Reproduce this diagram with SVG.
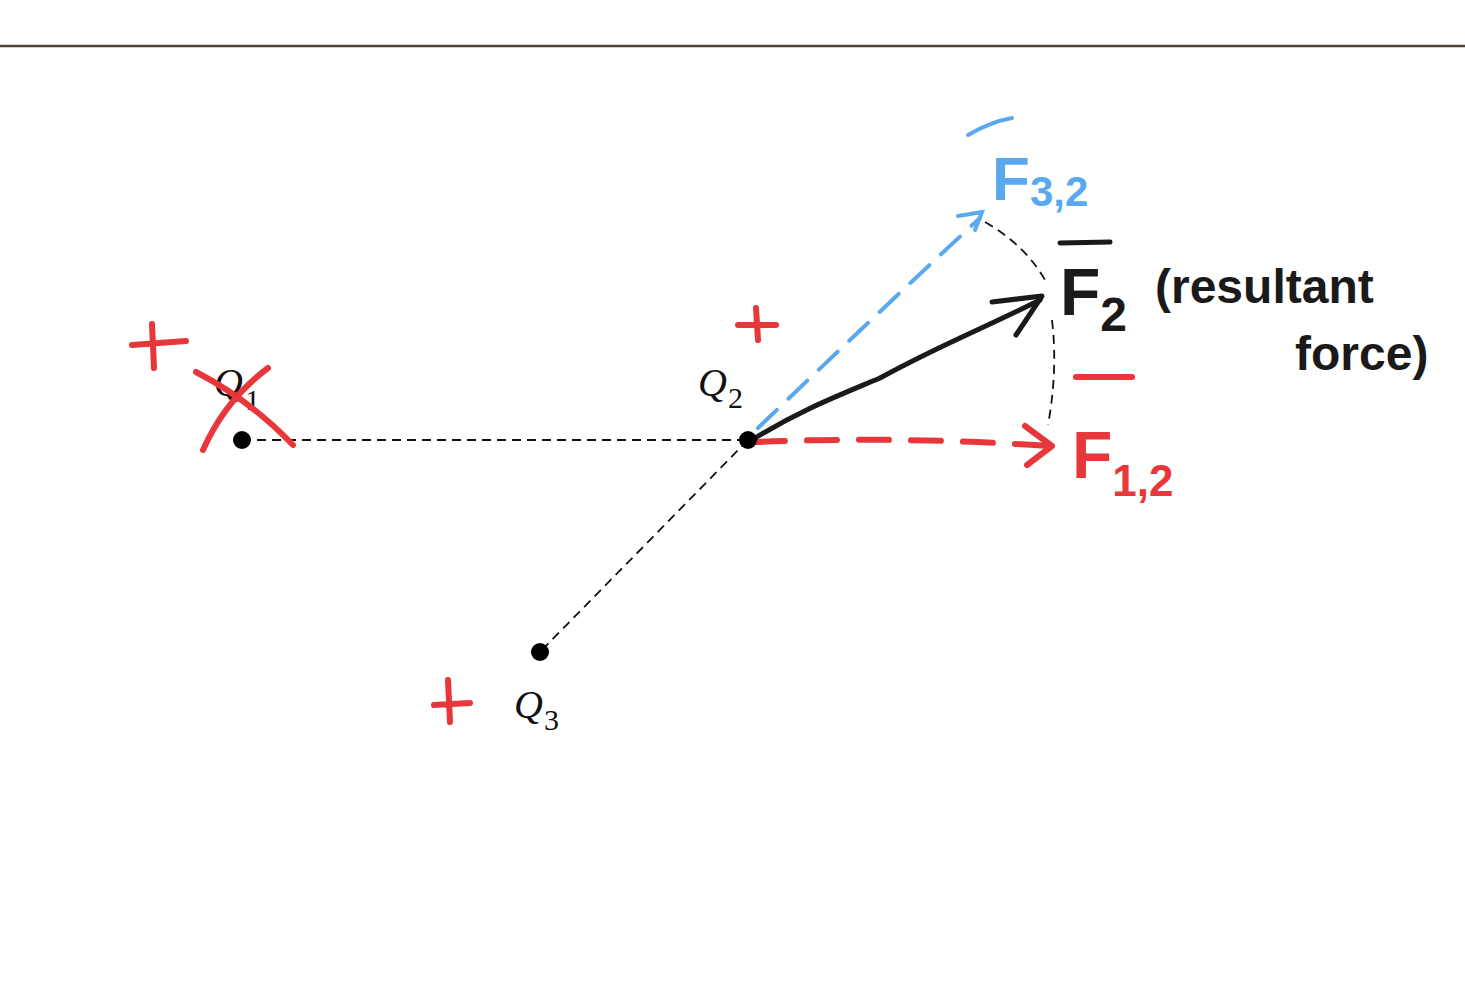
<svg xmlns="http://www.w3.org/2000/svg" width="1465" height="1000" viewBox="0 0 1465 1000">
<style>
.thin{stroke:#111;stroke-width:1.8;stroke-dasharray:9 6;fill:none}
.red{stroke:#e8373a;stroke-width:6;fill:none;stroke-linecap:round;stroke-linejoin:round}
.blue{stroke:#5aa9ef;stroke-width:4;fill:none;stroke-linecap:round}
.blk{stroke:#1a1a1a;stroke-width:5;fill:none;stroke-linecap:round;stroke-linejoin:round}
.q{font-family:"Liberation Serif",serif;font-style:italic;font-size:40px;fill:#111}
.qs{font-family:"Liberation Serif",serif;font-size:30px;fill:#111}
.h{font-family:"Liberation Sans",sans-serif;font-weight:bold}
</style>
<rect width="1465" height="1000" fill="#fff"/>
<line x1="0" y1="46" x2="1465" y2="46" stroke="#4a4535" stroke-width="2.5"/>
<g id="connectors">
<line class="thin" x1="242" y1="440" x2="748" y2="440"/>
<line class="thin" x1="748" y1="440" x2="540" y2="652"/>
<path class="thin" d="M985,222 Q1025,245 1045,280"/>
<path class="thin" d="M1052,320 Q1058,370 1048,425"/>
<path class="red" stroke-dasharray="30 22" d="M755,442 Q900,436 1048,446"/>
<path class="red" d="M1025,426 L1052,446 L1027,465"/>
<path class="blue" stroke-dasharray="26 16" d="M758,428 Q870,320 980,218"/>
<path class="blue" d="M958,216 L982,212 L975,230"/>
<path class="blk" d="M752,440 C800,410 840,395 880,378 C940,345 980,330 1040,300"/>
<path class="blk" d="M992,302 L1042,296 L1016,335"/>
</g>
<g id="Q1"><circle cx="242" cy="440" r="9" fill="#000"/><text class="q" x="214" y="396">Q</text><text class="qs" x="245" y="410">1</text>
<path class="red" d="M196,372 Q250,400 293,445 M268,368 Q225,400 203,450"/></g>
<g id="Q2"><circle cx="748" cy="440" r="9" fill="#000"/><text class="q" x="698" y="396">Q</text><text class="qs" x="728" y="408">2</text></g>
<g id="Q3"><circle cx="540" cy="652" r="9" fill="#000"/><text class="q" x="514" y="718">Q</text><text class="qs" x="544" y="730">3</text></g>
<g id="plus">
<path class="red" d="M132,345 L186,341 M152,324 L154,368"/>
<path class="red" d="M738,325 L776,325 M756,308 L758,340"/>
<path class="red" d="M434,705 L470,703 M448,680 L450,722"/>
</g>
<g id="F32"><path class="blue" stroke-width="6" d="M968,135 Q990,122 1012,118"/>
<text class="h" x="992" y="200" font-size="62" fill="#5aa9ef">F<tspan font-size="42" dy="6">3,2</tspan></text></g>
<g id="F2"><path class="blk" stroke-width="6" d="M1060,243 L1110,242"/>
<text class="h" x="1060" y="315" font-size="66" fill="#1a1a1a">F<tspan font-size="48" dy="16">2</tspan></text>
<text class="h" x="1155" y="303" font-size="48" fill="#1a1a1a">(resultant</text>
<text class="h" x="1295" y="370" font-size="48" fill="#1a1a1a">force)</text></g>
<g id="F12"><path class="red" d="M1076,377 L1132,377"/>
<text class="h" x="1072" y="478" font-size="66" fill="#e8373a">F<tspan font-size="44" dy="18">1,2</tspan></text></g>
</svg>
